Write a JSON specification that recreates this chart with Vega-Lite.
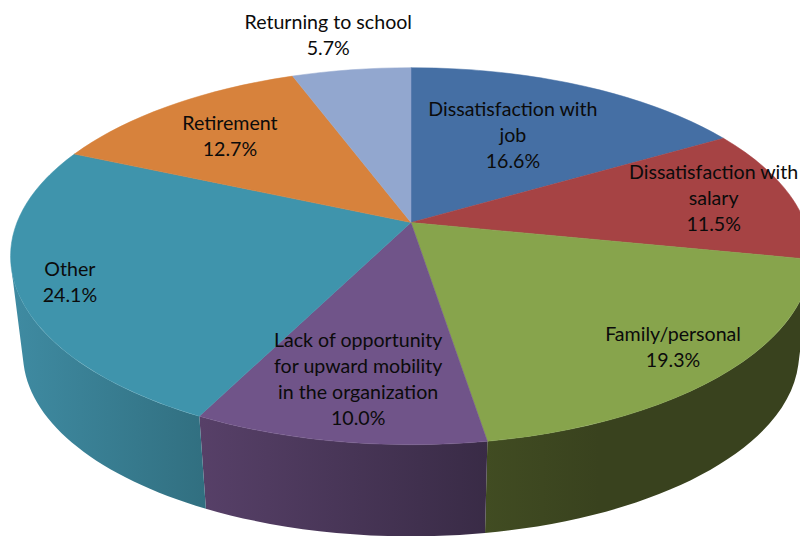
{
"$schema":"https://vega.github.io/schema/vega-lite/v6.json",
"width":800,"height":536,"padding":0,"autosize":"none","background":"white",
"view":{"stroke":null},
"params":[
{"name":"ax","value":411},{"name":"ay","value":222.5},
{"name":"pk","value":0.1787},{"name":"pr","value":394},{"name":"ps","value":182.5},
{"name":"dz","value":98.5},{"name":"sb","value":0.969},
{"name":"aL","value":4.473},{"name":"aR","value":1.81},
{"name":"erx","expr":"round(100*pr/sqrt(1-pk*pk))/100"},{"name":"ery","expr":"round(100*ps/(1-pk*pk))/100"},
{"name":"erxb","expr":"round(100*sb*pr/sqrt(1-pk*pk))/100"},{"name":"eryb","expr":"round(100*sb*ps/(1-pk*pk))/100"}
],
"data":{"values":[
{"order":1,"name":"Dissatisfaction with job","label":"Dissatisfaction with\njob","share":16.6},
{"order":2,"name":"Dissatisfaction with salary","label":"Dissatisfaction with\nsalary","share":11.5},
{"order":3,"name":"Family/personal","label":"Family/personal","share":19.3},
{"order":4,"name":"Lack of opportunity for upward mobility in the organization","label":"Lack of opportunity\nfor upward mobility\nin the organization","share":10.0},
{"order":5,"name":"Other","label":"Other","share":24.1},
{"order":6,"name":"Retirement","label":"Retirement","share":12.7},
{"order":7,"name":"Returning to school","label":"Returning to school","share":5.7}
]},
"transform":[
{"joinaggregate":[{"op":"sum","field":"share","as":"total"}]},
{"window":[{"op":"sum","field":"share","as":"cum"}],"sort":[{"field":"order"}]},
{"calculate":"2*PI*(datum.cum-datum.share)/datum.total","as":"a0"},
{"calculate":"2*PI*datum.cum/datum.total","as":"a1"},
{"calculate":"(datum.a0+datum.a1)/2+{'1':-0.02,'2':0,'3':0,'4':0,'5':-0.02,'6':-0.015,'7':-0.023}[datum.order]","as":"am"},
{"calculate":"max(datum.a0,aR)","as":"b0"},
{"calculate":"min(datum.a1,aL)","as":"b1"},
{"calculate":"round(100*(ax-400+pr*sin(datum.a0)/(1+pk*cos(datum.a0))))/100+','+round(100*(ay-268-ps*cos(datum.a0)/(1+pk*cos(datum.a0))))/100","as":"t0"},
{"calculate":"round(100*(ax-400+pr*sin(datum.a1)/(1+pk*cos(datum.a1))))/100+','+round(100*(ay-268-ps*cos(datum.a1)/(1+pk*cos(datum.a1))))/100","as":"t1"},
{"calculate":"'M'+(ax-400)+','+(ay-268)+'L'+datum.t0+'A'+erx+','+ery+' 0 0 1 '+datum.t1+'Z'","as":"topPath"},
{"calculate":"round(100*(ax-400+pr*sin(datum.b0)/(1+pk*cos(datum.b0))))/100+','+round(100*(ay-268-ps*cos(datum.b0)/(1+pk*cos(datum.b0))))/100","as":"w0"},
{"calculate":"round(100*(ax-400+pr*sin(datum.b1)/(1+pk*cos(datum.b1))))/100+','+round(100*(ay-268-ps*cos(datum.b1)/(1+pk*cos(datum.b1))))/100","as":"w1"},
{"calculate":"round(100*(ax-400+sb*pr*sin(datum.b0)/(1+pk*cos(datum.b0))))/100+','+round(100*(ay+dz-268-sb*ps*cos(datum.b0)/(1+pk*cos(datum.b0))))/100","as":"z0"},
{"calculate":"round(100*(ax-400+sb*pr*sin(datum.b1)/(1+pk*cos(datum.b1))))/100+','+round(100*(ay+dz-268-sb*ps*cos(datum.b1)/(1+pk*cos(datum.b1))))/100","as":"z1"},
{"calculate":"'M'+datum.w0+'A'+erx+','+ery+' 0 0 1 '+datum.w1+'L'+datum.z1+'A'+erxb+','+eryb+' 0 0 0 '+datum.z0+'Z'","as":"wallPath"},
{"calculate":"{'1':0.587,'2':0.797,'3':0.853,'4':0.757,'5':0.875,'6':0.7186,'7':1.28}[datum.order]","as":"rf"},
{"calculate":"datum.label+'\\n'+format(datum.share,'.1f')+'%'","as":"text"},
{"calculate":"ax+datum.rf*pr*sin(datum.am)/(1+pk*datum.rf*cos(datum.am))","as":"lx"},
{"calculate":"ay-datum.rf*ps*cos(datum.am)/(1+pk*datum.rf*cos(datum.am))-13*(length(split(datum.text,'\\n'))-1)","as":"ly"}
],
"layer":[
{"transform":[{"filter":"datum.order==3"}],
 "mark":{"type":"point","filled":true,"opacity":1,"strokeWidth":0,"fill":{"gradient":"linear","x1":0,"x2":1,"y1":0,"y2":0,"stops":[{"offset":0,"color":"#414c22"},{"offset":0.35,"color":"#39421e"},{"offset":1,"color":"#39421e"}]}},
 "encoding":{"shape":{"field":"wallPath","type":"nominal","scale":null,"legend":null},"size":{"value":4}}},
{"transform":[{"filter":"datum.order==4"}],
 "mark":{"type":"point","filled":true,"opacity":1,"strokeWidth":0,"fill":{"gradient":"linear","x1":0,"x2":1,"y1":0,"y2":0,"stops":[{"offset":0,"color":"#574068"},{"offset":1,"color":"#392b46"}]}},
 "encoding":{"shape":{"field":"wallPath","type":"nominal","scale":null,"legend":null},"size":{"value":4}}},
{"transform":[{"filter":"datum.order==5"}],
 "mark":{"type":"point","filled":true,"opacity":1,"strokeWidth":0,"fill":{"gradient":"linear","x1":0,"x2":1,"y1":0,"y2":0,"stops":[{"offset":0,"color":"#3f8ba2"},{"offset":1,"color":"#316f80"}]}},
 "encoding":{"shape":{"field":"wallPath","type":"nominal","scale":null,"legend":null},"size":{"value":4}}},
{"mark":{"type":"point","filled":true,"opacity":1,"strokeWidth":0.5},
 "encoding":{
  "shape":{"field":"topPath","type":"nominal","scale":null,"legend":null},
  "size":{"value":4},
  "color":{"field":"name","type":"nominal","legend":null,"sort":null,"scale":{"domain":["Dissatisfaction with job","Dissatisfaction with salary","Family/personal","Lack of opportunity for upward mobility in the organization","Other","Retirement","Returning to school"],"range":["#456fa4","#a64344","#87a44c","#705489","#3f94ac","#d7823c","#92a7cf"]}},
  "stroke":{"field":"name","type":"nominal","legend":null,"sort":null,"scale":{"domain":["Dissatisfaction with job","Dissatisfaction with salary","Family/personal","Lack of opportunity for upward mobility in the organization","Other","Retirement","Returning to school"],"range":["#456fa4","#a64344","#87a44c","#705489","#3f94ac","#d7823c","#92a7cf"]}}
 }},
{"mark":{"type":"text","font":"Lato","fontSize":19.6,"lineHeight":26,"lineBreak":"\n","align":"center","baseline":"middle","color":"#0b0b0b"},
 "encoding":{
  "x":{"field":"lx","type":"quantitative","scale":null},
  "y":{"field":"ly","type":"quantitative","scale":null},
  "text":{"field":"text","type":"nominal"}
 }}
]
}
